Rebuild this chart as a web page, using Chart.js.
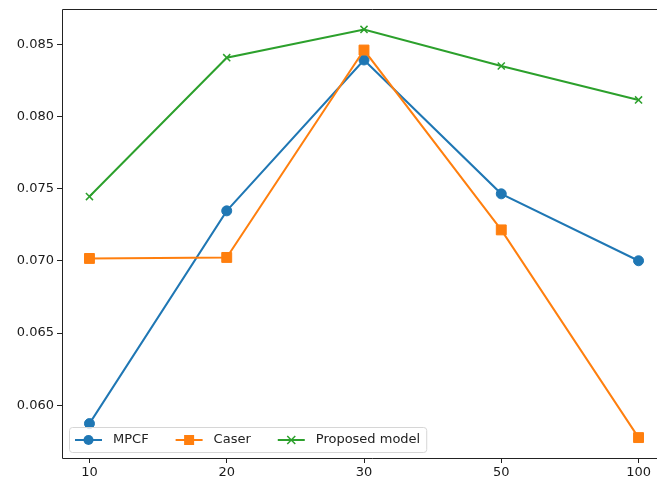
<!DOCTYPE html>
<html>
<head>
<meta charset="utf-8">
<script src="https://cdn.jsdelivr.net/npm/chart.js@4.4.1/dist/chart.umd.min.js"></script>
<style>
  html, body { margin: 0; padding: 0; background: #fff; overflow: hidden; }
  #wrap { width: 657px; height: 484px; overflow: hidden; position: relative; }
  #lineChart { position: absolute; left: 0; top: 0; }
</style>
</head>
<body>
<div id="wrap"><canvas id="lineChart" width="682" height="484"></canvas></div>
<script>
// data
const categories = ['10', '20', '30', '50', '100'];
const mpcf = [0.05872, 0.07347, 0.08393, 0.07465, 0.07001];
const caser = [0.07017, 0.07024, 0.08462, 0.07215, 0.05775];
const proposed = [0.07446, 0.08409, 0.08605, 0.08351, 0.08116];
const yTicks = [0.060, 0.065, 0.070, 0.075, 0.080, 0.085];

const FONT = '"DejaVu Sans", sans-serif';

function toPoints(arr) {
    return arr.map((v, i) => ({x: i, y: v}));
}

function drawMarker(ctx, style, x, y, color) {
    ctx.save();
    ctx.fillStyle = color;
    ctx.strokeStyle = color;
    if (style === 'circle') {
        ctx.beginPath();
        ctx.arc(x, y, 5, 0, Math.PI * 2);
        ctx.fill();
    } else if (style === 'rect') {
        ctx.fillRect(x - 5, y - 5, 10, 10);
    } else {
        ctx.lineWidth = 1.5;
        ctx.beginPath();
        ctx.moveTo(x - 4, y - 4); ctx.lineTo(x + 4, y + 4);
        ctx.moveTo(x + 4, y - 4); ctx.lineTo(x - 4, y + 4);
        ctx.stroke();
    }
    ctx.restore();
}

// spines (right one falls outside the picture) + matplotlib style legend
const framePlugin = {
    id: 'frame',
    afterDraw(chart) {
        const {ctx} = chart;
        const xs = chart.scales.x, ys = chart.scales.y;
        const l = Math.round(xs.getPixelForValue(xs.min)) + 0.5;
        const r = chart.width;
        const t = Math.round(ys.getPixelForValue(ys.max)) + 0.5;
        const b = Math.round(ys.getPixelForValue(ys.min)) + 0.5;
        ctx.save();
        ctx.strokeStyle = '#222';
        ctx.lineWidth = 1;
        ctx.beginPath();
        ctx.moveTo(r, t); ctx.lineTo(l, t); ctx.lineTo(l, b); ctx.lineTo(r, b);
        ctx.stroke();

        // legend
        const bx = 69, by = 427, bh = 25;
        ctx.font = '13px ' + FONT;
        let x = bx + 6;
        const items = chart.data.datasets.map(ds => ({
            label: ds.label, color: ds.borderColor, style: ds.pointStyle,
            w: ctx.measureText(ds.label).width
        }));
        let total = 6;
        items.forEach((it, i) => { total += 27 + 11 + it.w + (i < items.length - 1 ? 27 : 6); });
        ctx.beginPath();
        ctx.roundRect(bx + 0.5, by + 0.5, total, bh, 3);
        ctx.fillStyle = 'rgba(255,255,255,0.8)';
        ctx.fill();
        ctx.strokeStyle = '#d6d6d6';
        ctx.stroke();
        const cy = by + bh / 2 + 0.5;
        items.forEach(it => {
            ctx.strokeStyle = it.color;
            ctx.lineWidth = 2;
            ctx.beginPath();
            ctx.moveTo(x, cy); ctx.lineTo(x + 27, cy);
            ctx.stroke();
            drawMarker(ctx, it.style, x + 13.5, cy, it.color);
            ctx.fillStyle = '#222';
            ctx.textBaseline = 'middle';
            ctx.fillText(it.label, x + 38, cy);
            x += 27 + 11 + it.w + 27;
        });
        ctx.restore();
    }
};

new Chart(document.getElementById('lineChart'), {
    type: 'line',
    data: {
        datasets: [
            {label: 'MPCF', data: toPoints(mpcf), borderColor: '#1f77b4', backgroundColor: '#1f77b4',
             pointStyle: 'circle', pointRadius: 5, order: 3},
            {label: 'Caser', data: toPoints(caser), borderColor: '#ff7f0e', backgroundColor: '#ff7f0e',
             pointStyle: 'rect', pointRadius: 7, order: 2},
            {label: 'Proposed model', data: toPoints(proposed), borderColor: '#2ca02c', backgroundColor: '#2ca02c',
             pointStyle: 'crossRot', pointRadius: 5, pointBorderWidth: 1.5, order: 1}
        ]
    },
    options: {
        responsive: false,
        animation: false,
        layout: {padding: {top: 9, right: 16, left: 0, bottom: 0}},
        elements: {
            line: {borderWidth: 2, tension: 0, fill: false},
            point: {borderWidth: 1}
        },
        plugins: {
            legend: {display: false},
            tooltip: {enabled: false}
        },
        scales: {
            x: {
                type: 'linear',
                min: -0.2,
                max: 4.2,
                afterBuildTicks: axis => { axis.ticks = categories.map((c, i) => ({value: i})); },
                afterFit: axis => { axis.height = 26; axis.paddingLeft = 0; axis.paddingRight = 0; },
                grid: {drawOnChartArea: false, tickLength: 5, color: '#222'},
                border: {display: false},
                ticks: {
                    callback: v => categories[v],
                    color: '#1a1a1a',
                    font: {family: FONT, size: 13},
                    padding: 2,
                    maxRotation: 0
                }
            },
            y: {
                min: 0.056335,
                max: 0.087465,
                afterBuildTicks: axis => { axis.ticks = yTicks.map(v => ({value: v})); },
                afterFit: axis => { axis.width = 62; axis.paddingTop = 0; axis.paddingBottom = 0; },
                grid: {drawOnChartArea: false, tickLength: 5, color: '#222'},
                border: {display: false},
                ticks: {
                    callback: v => v.toFixed(3),
                    color: '#1a1a1a',
                    font: {family: FONT, size: 13},
                    padding: 3
                }
            }
        }
    },
    plugins: [framePlugin]
});
</script>
</body>
</html>
